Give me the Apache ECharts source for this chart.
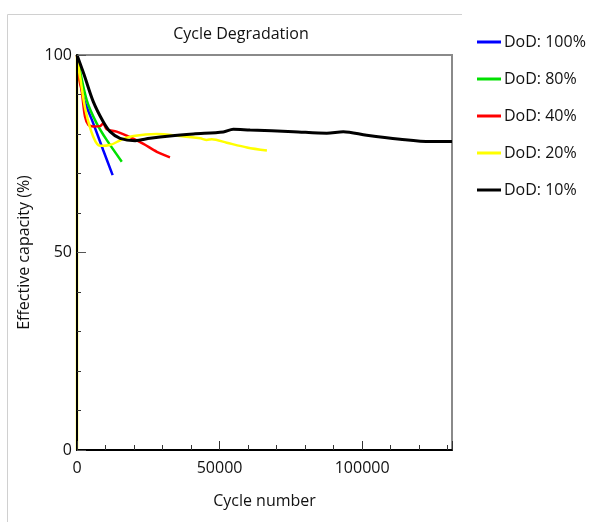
<!DOCTYPE html>
<html>
<head>
<meta charset="utf-8">
<script src="https://cdn.jsdelivr.net/npm/echarts@6/dist/echarts.min.js"></script>
<style>
  html, body { margin: 0; padding: 0; background: #fff; }
  #chart { width: 593px; height: 522px; }
</style>
</head>
<body>
<div id="chart"></div>
<script>
// values: [cycle number, effective capacity %]
const dod100 = [[0, 100], [2200, 89.4], [5700, 82.7], [9200, 75.9], [12500, 69.6]];
const dod80 = [[0, 100], [3400, 88.6], [6900, 82.7], [10400, 78.5], [15700, 73.0]];
const dod40 = [[0, 100], [700, 94], [1600, 91.1], [2800, 84.4], [4000, 82.3], [5700, 81.9],
  [8100, 82.0], [9200, 82.7], [10400, 81.2], [13900, 80.6], [18600, 79.2], [23300, 77.5],
  [28000, 75.5], [32600, 74.1]];
const dod20 = [[0, 0], [0, 100], [1000, 95], [3000, 86], [5700, 79.3], [8100, 77.0], [11600, 77.2],
  [15700, 78.6], [19800, 79.5], [28000, 80.0], [36100, 79.5], [43200, 78.9], [45500, 78.5],
  [47300, 78.7], [52500, 77.8], [59600, 76.6], [66600, 75.8]];
const dod10 = [[0, 100], [2500, 95], [5700, 88.2], [9200, 83.1], [11600, 80.6], [15100, 78.9],
  [20400, 78.3], [25600, 78.9], [32600, 79.5], [40800, 80.0], [51300, 80.5], [54800, 81.2],
  [60700, 81.0], [75900, 80.6], [87600, 80.2], [93400, 80.6], [101600, 79.7], [113300, 78.7],
  [123900, 78.1], [131500, 78.1]];

const names = ["DoD: 100%", "DoD: 80%", "DoD: 40%", "DoD: 20%", "DoD: 10%"];
const colors = ["#0000ff", "#00e000", "#ff0000", "#ffff00", "#000000"];
const seriesData = [dod100, dod80, dod40, dod20, dod10];

const font = "'Open Sans', 'Noto Sans', sans-serif";

const chart = echarts.init(document.getElementById("chart"));
chart.setOption({
  animation: false,
  title: {
    text: "Cycle Degradation",
    left: 236,
    top: 21,
    textAlign: "center",
    textStyle: { fontFamily: font, fontSize: 16, fontWeight: "normal", color: "#111" }
  },
  legend: {
    orient: "vertical",
    left: 472,
    top: 29,
    itemGap: 21,
    itemWidth: 24,
    itemHeight: 3,
    icon: "rect",
    data: names,
    textStyle: { fontFamily: font, fontSize: 16, color: "#111", padding: [0, 0, 0, -2] }
  },
  grid: {
    left: 77, top: 55, right: 141, bottom: 72,
    show: true, borderColor: "#8a8a8a", borderWidth: 2
  },
  xAxis: {
    type: "value",
    min: 0,
    max: 131500,
    interval: 50000,
    z: 10,
    name: "Cycle number",
    nameLocation: "middle",
    nameGap: 43,
    nameTextStyle: { fontFamily: font, fontSize: 16, color: "#111" },
    axisLine: { lineStyle: { color: "#000", width: 2 } },
    axisTick: { inside: true, length: 9, lineStyle: { color: "#333" } },
    minorTick: { show: true, splitNumber: 5, length: 5, lineStyle: { color: "#333" } },
    axisLabel: {
      fontFamily: font, fontSize: 16, color: "#111", margin: 10, showMaxLabel: false,
      formatter: v => String(v)
    },
    splitLine: { show: false }
  },
  yAxis: {
    type: "value",
    min: 0,
    max: 100,
    interval: 50,
    z: 10,
    name: "Effective capacity (%)",
    nameLocation: "middle",
    nameGap: 45,
    nameTextStyle: { fontFamily: font, fontSize: 16, color: "#111" },
    axisLine: { lineStyle: { color: "#000", width: 2 } },
    axisTick: { inside: true, length: 9, lineStyle: { color: "#555" } },
    minorTick: { show: true, splitNumber: 5, length: 4, lineStyle: { color: "#333" } },
    axisLabel: { fontFamily: font, fontSize: 16, color: "#111", margin: 5 },
    splitLine: { show: false }
  },
  graphic: [
    { type: "line", shape: { x1: 7.5, y1: 14.5, x2: 462, y2: 14.5 }, style: { stroke: "#d0d0d0", lineWidth: 1 } },
    { type: "line", shape: { x1: 7.5, y1: 14.5, x2: 7.5, y2: 522 }, style: { stroke: "#d0d0d0", lineWidth: 1 } }
  ],
  series: seriesData.map((d, i) => ({
    name: names[i],
    type: "line",
    data: d,
    symbol: "none",
    smooth: 0.3,
    color: colors[i],
    lineStyle: { width: i === 4 ? 3 : 2.5, color: colors[i] },
    z: 2 + i
  }))
});
</script>
</body>
</html>
